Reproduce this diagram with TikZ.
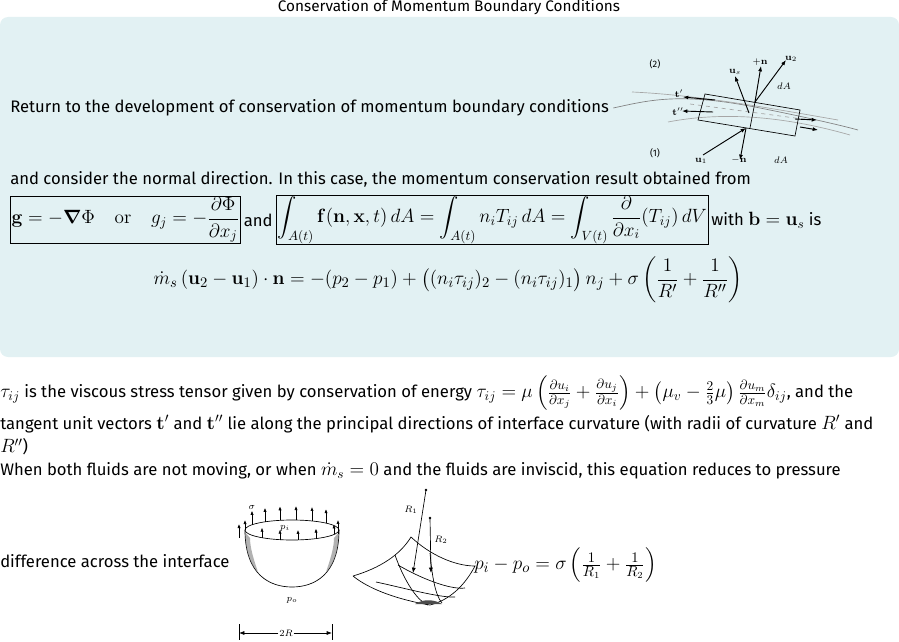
\documentclass[tikz,border=0pt]{standalone}
\usepackage{amsmath}
\usepackage[no-math]{fontspec}
\setmainfont{Fira Sans}
\usetikzlibrary{arrows.meta}
\definecolor{bgc}{HTML}{E2F1F3}
\newcommand{\mm}[1]{\text{\fontsize{14}{15}\selectfont$#1$}}
\tikzset{txt/.style={anchor=west,inner sep=0pt,font=\fontsize{12.5}{15}\selectfont},
 thin/.style={line width=0.5pt},
 arr/.style={-{Latex[length=4pt,width=3pt]},line width=0.7pt},
 lbl/.style={font=\scriptsize,inner sep=0.5pt},
 bx/.style={draw,line width=0.6pt,inner sep=1pt,font=\fontsize{14.8}{16}\selectfont}}
\begin{document}
\begin{tikzpicture}[x=0.75pt,y=-0.75pt]
\useasboundingbox (0,0) rectangle (899,642);
\fill[bgc,rounded corners=6pt] (0,17) rectangle (899,357);
\node[font=\fontsize{11.5}{13}\selectfont] (title) at (449,7) {Conservation of Momentum Boundary Conditions};
\node[txt] (l1) at (10,108) {Return to the development of conservation of momentum boundary conditions};
% momentum diagram
\begin{scope}
\draw[gray,thin] (l1.east) ++(3pt,0) .. controls (650,100) and (680,92) .. (760,108) .. controls (800,116) and (840,125) .. (858,130);
\draw[gray!70,thin] (632,92) .. controls (700,95) and (780,110) .. (838,120);
\draw[gray!70,thin] (668,122) .. controls (720,112) and (780,115) .. (850,135);
\draw[gray!70,thin,dashed] (690,104) -- (810,120);
\draw[thin] (705,94) -- (800,110) -- (795,136) -- (698,120) -- cycle;
\draw[thin] (755,102) -- (750,128);
\coordinate (c1) at (746,128); \coordinate (c2) at (755,102);
\draw[arr] (703,155) -- (c1);
\draw[arr] (c1) -- (740,160);
\draw[arr] (c2) -- (761,66);
\draw[arr] (c2) -- (786,60);
\draw[arr] (749,113) -- (735,76);
\draw[arr] (715,100) -- (683,97);
\draw[arr] (713,112) -- (682,111);
\draw[arr] (795,119) -- (817,120);
\draw[arr] (800,127) -- (818,130);
\node[lbl] (n2) at (655,64) {(2)};
\node[lbl] (n1) at (655,153) {(1)};
\node[lbl] (lu1) at (701,161) {$\mathbf u_1$};
\node[lbl] (lmn) at (739,160) {$-\mathbf n$};
\node[lbl] (lda1) at (781,160) {$dA$};
\node[lbl] (lda2) at (784,86) {$dA$};
\node[lbl] (lpn) at (760,62) {$+\mathbf n$};
\node[lbl] (lu2) at (791,59) {$\mathbf u_2$};
\node[lbl] (lus) at (735,72) {$\mathbf u_s$};
\node[lbl] (lt1) at (679,94) {$\mathbf t'$};
\node[lbl] (lt2) at (678,112) {$\mathbf t''$};
\end{scope}
\node[txt] (l2) at (10,179) {and consider the normal direction. In this case, the momentum conservation result obtained from};
\node[bx,anchor=west] (e1) at (10,220) {$\mathbf g=-\boldsymbol\nabla\Phi\quad\mathrm{or}\quad g_j=-\dfrac{\partial\Phi}{\partial x_j}$};
\node[txt,anchor=west] (and) at (e1.east) {\,and\,};
\node[bx,anchor=west] (e2) at (and.east) {$\displaystyle\int_{A(t)}\mathbf f(\mathbf n,\mathbf x,t)\,dA=\int_{A(t)}n_iT_{ij}\,dA=\int_{V(t)}\frac{\partial}{\partial x_i}(T_{ij})\,dV$};
\node[txt,anchor=west] (wb) at (e2.east) {\,with \mm{\mathbf b=\mathbf u_s} is};
\node[font=\fontsize{15}{18}\selectfont] (e3) at (448,280) {$\dot m_s\left(\mathbf u_2-\mathbf u_1\right)\cdot\mathbf n=-(p_2-p_1)+\big((n_i\tau_{ij})_2-(n_i\tau_{ij})_1\big)\,n_j+\sigma\left(\dfrac{1}{R'}+\dfrac{1}{R''}\right)$};
\node[txt] (l4) at (0,393) {\mm{\tau_{ij}} is the viscous stress tensor given by conservation of energy \mm{\tau_{ij}=\mu\left(\frac{\partial u_i}{\partial x_j}+\frac{\partial u_j}{\partial x_i}\right)+\left(\mu_v-\frac23\mu\right)\frac{\partial u_m}{\partial x_m}\delta_{ij}}, and the};
\node[txt] (l5) at (0,424) {tangent unit vectors \mm{\mathbf t'} and \mm{\mathbf t''} lie along the principal directions of interface curvature (with radii of curvature \mm{R'} and};
\node[txt] (l6) at (0,447) {\mm{R''})};
\node[txt] (l7) at (0,471) {When both fluids are not moving, or when \mm{\dot m_s=0} and the fluids are inviscid, this equation reduces to pressure};
\node[txt] (l8) at (0,561) {difference across the interface};
% bowl
\draw[thin] (245,530) .. controls (245,575) and (270,587) .. (292,587) .. controls (314,587) and (339,575) .. (339,530);
\draw[thin] (292,530) ellipse (47 and 10);
\fill[black!60,opacity=0.5] (245,532) .. controls (246,556) and (252,566) .. (258,572) .. controls (252,555) and (250,545) .. (250,538) -- cycle;
\fill[black!60,opacity=0.5] (339,532) .. controls (338,556) and (332,566) .. (326,572) .. controls (332,555) and (334,545) .. (334,538) -- cycle;
\foreach \x in {239,252,265,280,296,312,326,338} \draw[arr,line width=0.5pt,-{Latex[length=3pt,width=2.4pt]}] (\x,{530-10*sqrt(max(0,1-((\x-292)/47)^2))+ (\x<247 ? 8 : 0)+(\x>337?6:0)}) -- ++(0,-14);
\foreach \x in {245,262,280,298,316,334} \draw[line width=0.5pt,-{Latex[length=3pt,width=2.4pt]}] (\x,{530+10*sqrt(max(0,1-((\x-292)/47)^2))}) -- ++(0,-10);
\node[lbl] (sig) at (252,507) {$\sigma$};
\node[lbl] (pi) at (285,528) {$p_i$};
\node[lbl] (po) at (292,600) {$p_o$};
\draw[thin] (239,624) -- (239,640); \draw[thin] (332,624) -- (332,640);
\node[lbl] (tr) at (286,633) {$2R$};
\draw[arr,line width=0.5pt] (tr.west) -- (239,633);
\draw[arr,line width=0.5pt] (tr.east) -- (332,633);
% saddle
\draw[thin] (353,576) .. controls (380,568) and (400,555) .. (411,537) .. controls (430,555) and (455,566) .. (475,566) .. controls (465,585) and (450,600) .. (430,605) .. controls (400,600) and (370,590) .. (353,576);
\draw[thin] (398,565) .. controls (420,578) and (450,590) .. (465,588);
\draw[thin] (376,582) .. controls (400,587) and (440,598) .. (455,597);
\draw[thin] (395,555) .. controls (402,575) and (415,600) .. (428,605);
\draw[thin] (430,553) .. controls (432,575) and (435,595) .. (442,603);
\fill[black!70] (415,604) .. controls (425,598) and (435,600) .. (442,604) -- cycle;
\coordinate (r1) at (426,490);
\coordinate (r2) at (430,518);
\fill (r1) circle (1.4); \fill (r2) circle (1.4);
\draw[arr,line width=0.5pt] (r1) -- (413,573);
\draw[arr,line width=0.5pt] (r2) -- (431,573);
\node[lbl] (lr1) at (411,510) {$R_1$};
\node[lbl] (lr2) at (441,540) {$R_2$};
\node[anchor=west,inner sep=0pt,font=\fontsize{15}{18}\selectfont] (e4) at (474,565) {$p_i-p_o=\sigma\left(\frac{1}{R_1}+\frac{1}{R_2}\right)$};
\end{tikzpicture}
\end{document}
